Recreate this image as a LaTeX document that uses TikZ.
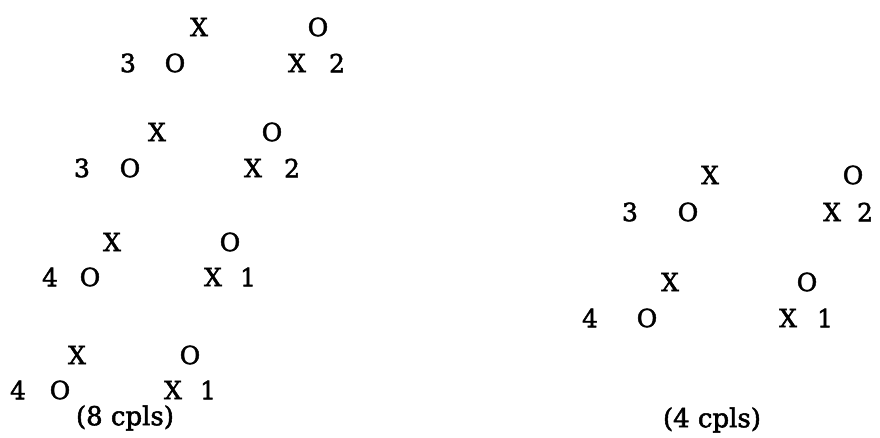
\documentclass[tikz,border=0pt]{standalone}
\usepackage{fontspec}
\setmainfont{DejaVu Serif}
\newfontfamily\heavyserif[FakeBold=2]{DejaVu Serif}
\begin{document}
\begin{tikzpicture}[x=1pt,y=-1pt,
  glyph/.style={font=\heavyserif\fontsize{25}{29}\selectfont, inner sep=0pt, anchor=center},
  captext/.style={font=\heavyserif\fontsize{26}{30}\selectfont, inner sep=0pt, anchor=center}]
\useasboundingbox (0,0) rectangle (880,438);
% block 1
\node[glyph] (a1x) at (199,27) {X};
\node[glyph] (a1o) at (318,27) {O};
\node[glyph] (a1n) at (128,63) {3};
\node[glyph] (a1lo) at (175,63) {O};
\node[glyph] (a1rx) at (297,63) {X};
\node[glyph] (a1m) at (337,63) {2};
% block 2
\node[glyph] (a2x) at (157,132) {X};
\node[glyph] (a2o) at (272,132) {O};
\node[glyph] (a2n) at (82,168) {3};
\node[glyph] (a2lo) at (130,168) {O};
\node[glyph] (a2rx) at (253,168) {X};
\node[glyph] (a2m) at (292,168) {2};
% block 3
\node[glyph] (a3x) at (112,242) {X};
\node[glyph] (a3o) at (230,242) {O};
\node[glyph] (a3n) at (50,277) {4};
\node[glyph] (a3lo) at (90,277) {O};
\node[glyph] (a3rx) at (213,277) {X};
\node[glyph] (a3m) at (248,277) {1};
% block 4
\node[glyph] (a4x) at (77,355) {X};
\node[glyph] (a4o) at (190,355) {O};
\node[glyph] (a4n) at (18,390) {4};
\node[glyph] (a4lo) at (60,390) {O};
\node[glyph] (a4rx) at (173,390) {X};
\node[glyph] (a4m) at (208,390) {1};
\node[captext] (lab8) at (125,418) {(8 cpls)};
% right block 1
\node[glyph] (b1x) at (710,175) {X};
\node[glyph] (b1o) at (853,175) {O};
\node[glyph] (b1n) at (630,212) {3};
\node[glyph] (b1lo) at (688,212) {O};
\node[glyph] (b1rx) at (832,212) {X};
\node[glyph] (b1m) at (865,212) {2};
% right block 2
\node[glyph] (b2x) at (670,282) {X};
\node[glyph] (b2o) at (807,282) {O};
\node[glyph] (b2n) at (590,318) {4};
\node[glyph] (b2lo) at (647,318) {O};
\node[glyph] (b2rx) at (788,318) {X};
\node[glyph] (b2m) at (825,318) {1};
\node[captext] (lab4) at (712,420) {(4 cpls)};
\end{tikzpicture}
\end{document}
